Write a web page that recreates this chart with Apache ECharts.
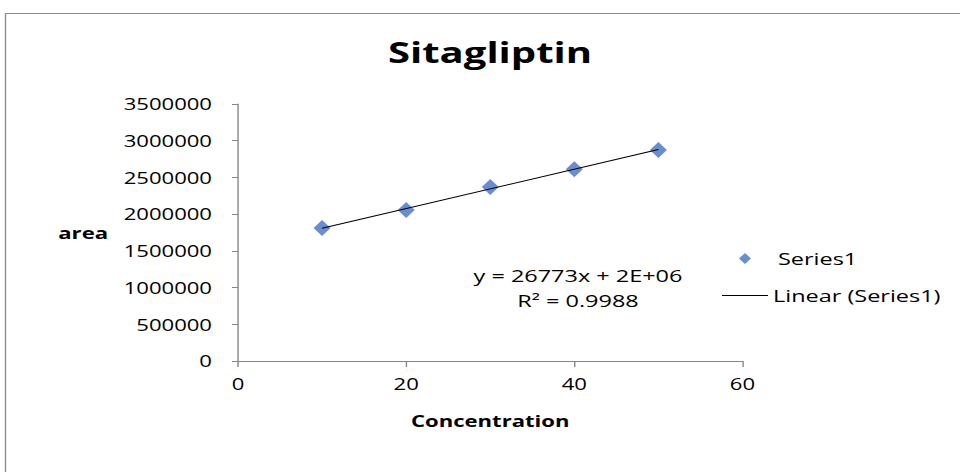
<!DOCTYPE html>
<html>
<head>
<meta charset="utf-8">
<script src="https://cdn.jsdelivr.net/npm/echarts@6/dist/echarts.min.js"></script>
<style>
html,body{margin:0;padding:0;background:#fff;overflow:hidden;}
#wrap{width:960px;height:472px;overflow:hidden;position:relative;}
#c{height:472px;transform-origin:0 0;position:absolute;left:0;top:0;}
</style>
</head>
<body>
<div id="wrap"><div id="c"></div></div>
<script>
const concentration = [10, 20, 30, 40, 50];
const area = [1810000, 2055000, 2370000, 2610000, 2875000];
const xTicks = [0, 20, 40, 60];
const yTicks = [0, 500000, 1000000, 1500000, 2000000, 2500000, 3000000, 3500000];
const equationText = 'y = 26773x + 2E+06';
const r2Text = 'R² = 0.9988';

// least-squares trendline from the data
const n = concentration.length;
const mx = concentration.reduce((a, b) => a + b, 0) / n;
const my = area.reduce((a, b) => a + b, 0) / n;
let sxy = 0, sxx = 0;
for (let i = 0; i < n; i++) { sxy += (concentration[i] - mx) * (area[i] - my); sxx += (concentration[i] - mx) ** 2; }
const slope = sxy / sxx, intercept = my - slope * mx;
const xFirst = concentration[0], xLast = concentration[n - 1];
const trend = [[xFirst, intercept + slope * xFirst], [xLast, intercept + slope * xLast]];

// the reference picture is stretched horizontally; reproduce with a horizontal scale
const S = 1.38;
const X = v => v / S;
const el = document.getElementById('c');
el.style.width = (960 / S) + 'px';
el.style.transform = 'scaleX(' + S + ')';

const FONT = 'Open Sans';
const BLUE = '#4472c4';
const chart = echarts.init(el, null, { renderer: 'svg' });
chart.setOption({
  animation: false,
  backgroundColor: '#fff',
  textStyle: { fontFamily: FONT },
  title: [
    { text: 'Sitagliptin', left: X(490), top: 37, padding: 0, textAlign: 'center',
      textStyle: { fontFamily: FONT, fontSize: 29, fontWeight: 'bold', color: '#000' } },
    { text: equationText + '\n' + r2Text, left: X(578), top: 263, padding: 0, textAlign: 'center',
      textStyle: { fontFamily: FONT, fontSize: 17, fontWeight: 'normal', color: '#000', lineHeight: 25 } }
  ],
  legend: [
    { data: [{ name: 'Series1', icon: 'diamond' }], left: X(739), top: 250, padding: 0,
      itemWidth: X(12), itemHeight: 11,
      textStyle: { fontFamily: FONT, fontSize: 17, color: '#000', padding: [0, 0, 0, X(27) - 5] } },
    { data: [{ name: 'Linear (Series1)', icon: 'rect' }], left: X(722), top: 287, padding: 0,
      itemWidth: X(46), itemHeight: 1,
      textStyle: { fontFamily: FONT, fontSize: 17, color: '#000', padding: [0, 0, 0, X(5) - 5] } }
  ],
  grid: { left: X(238), right: X(218), top: 104, bottom: 111, containLabel: false },
  xAxis: {
    type: 'value', min: xTicks[0], max: xTicks[xTicks.length - 1], interval: 20,
    name: 'Concentration', nameLocation: 'middle', nameGap: 52,
    nameTextStyle: { fontFamily: FONT, fontSize: 16, fontWeight: 'bold', color: '#000' },
    axisLine: { show: true, lineStyle: { color: '#868686', width: 1 } },
    axisTick: { show: true, inside: false, length: 6, lineStyle: { color: '#868686' } },
    axisLabel: { fontFamily: FONT, fontSize: 16, color: '#000', margin: 15 },
    splitLine: { show: false }
  },
  yAxis: {
    type: 'value', min: yTicks[0], max: yTicks[yTicks.length - 1], interval: 500000,
    name: 'area', nameLocation: 'middle', nameRotate: 0, nameGap: X(130),
    nameTextStyle: { fontFamily: FONT, fontSize: 16, fontWeight: 'bold', color: '#000', align: 'right' },
    axisLine: { show: true, lineStyle: { color: '#868686', width: 1 } },
    axisTick: { show: true, inside: false, length: X(6), lineStyle: { color: '#868686' } },
    axisLabel: { fontFamily: FONT, fontSize: 16, color: '#000', margin: X(26), formatter: v => String(v) },
    splitLine: { show: false }
  },
  graphic: [
    { type: 'rect', silent: true, z: -1, shape: { x: X(5.5), y: 13.5, width: 1000, height: 600 },
      style: { fill: 'none', stroke: '#8c8c8c', lineWidth: 1 } }
  ],
  series: [
    { name: 'Series1', type: 'scatter', symbol: 'diamond', symbolSize: [X(17), 16], z: 2,
      itemStyle: { color: BLUE },
      data: concentration.map((x, i) => [x, area[i]]) },
    { name: 'Linear (Series1)', type: 'line', symbol: 'none', z: 3,
      lineStyle: { color: '#000', width: 1 }, itemStyle: { color: '#000' },
      data: trend }
  ]
});
</script>
</body>
</html>
